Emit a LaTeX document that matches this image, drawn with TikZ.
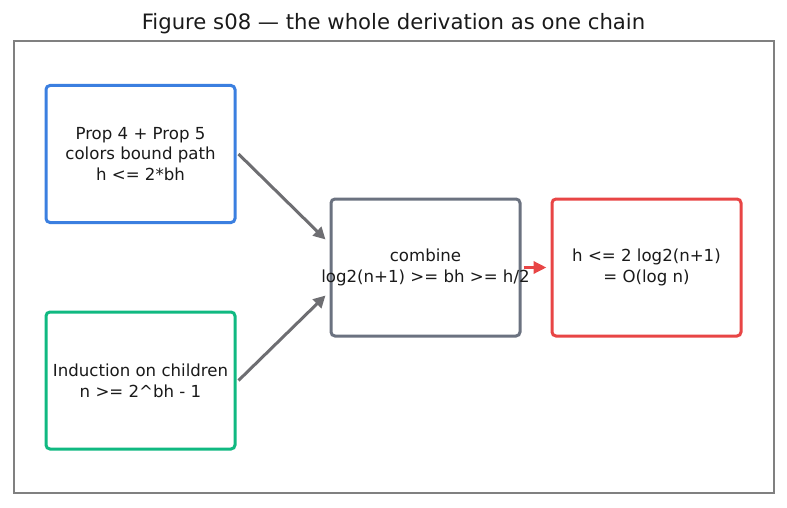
\documentclass[tikz,border=0pt]{standalone}
\usepackage{fontspec}
\setmainfont{DejaVu Sans}
\usetikzlibrary{arrows.meta}
\definecolor{cblue}{HTML}{3B7FE0}
\definecolor{cgreen}{HTML}{10B981}
\definecolor{cgray}{HTML}{6B7280}
\definecolor{carrow}{HTML}{6E6E72}
\definecolor{cred}{HTML}{E84545}
\definecolor{cframe}{HTML}{808080}
\definecolor{ctext}{HTML}{1A1A1A}
\begin{document}
\begin{tikzpicture}[x=1pt,y=-1pt,
  stepbox/.style={draw, line width=3pt, rounded corners=4pt, fill=white,
    minimum width=189pt, minimum height=137pt, inner sep=0pt},
  steptext/.style={align=center, inner sep=0pt, text=ctext,
    font=\fontsize{16.6}{20.8}\selectfont},
  link/.style={draw=carrow, line width=3pt, -{Triangle[length=12pt,width=12pt]}},
  hotlink/.style={draw=cred, line width=3.6pt, -{Triangle[length=13pt,width=12pt]}}]
  \useasboundingbox (0,0) rectangle (787,508);
  % caption and outer frame
  \node[text=ctext, font=\fontsize{21.2}{25}\selectfont] (title) at (393.5,23.5) {Figure s08 — the whole derivation as one chain};
  \draw[cframe, line width=1.5pt] (14,41) rectangle (774,493);
  % derivation steps: boxes
  \node[stepbox, draw=cblue] (props) at (140.5,154) {};
  \node[stepbox, draw=cgreen] (induct) at (140.5,380.5) {};
  \node[stepbox, draw=cgray] (combine) at (425.5,267.5) {};
  \node[stepbox, draw=cred] (result) at (646.5,267.5) {};
  % derivation steps: texts (may run past the box edge)
  \node[steptext] (props-t) at (props.center) {Prop 4 + Prop 5\\colors bound path\\h <= 2*bh};
  \node[steptext] (induct-t) at (induct.center) {Induction on children\\n >= 2\string^bh - 1};
  \node[steptext] (combine-t) at (combine.center) {combine\\log2(n+1) >= bh >= h/2};
  \node[steptext] (result-t) at (result.center) {h <= 2 log2(n+1)\\= O(log n)};
  % connectors
  \draw[link] ([xshift=2pt]props.east) -- ([xshift=-4pt,yshift=28pt]combine.west);
  \draw[link] ([xshift=2pt]induct.east) -- ([xshift=-4pt,yshift=-28pt]combine.west);
  \draw[hotlink] ([xshift=2pt]combine.east) -- ([xshift=-4pt]result.west);
\end{tikzpicture}
\end{document}
